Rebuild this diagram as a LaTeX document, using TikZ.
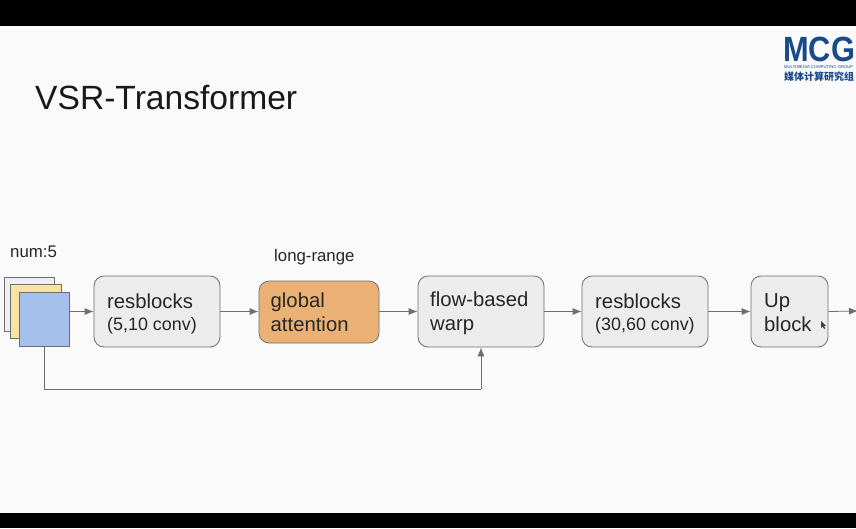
\documentclass[tikz,border=0pt]{standalone}
\usepackage{fontspec}
\setmainfont{Liberation Sans}
\newfontfamily\cjk{Noto Sans CJK SC}
\usetikzlibrary{arrows.meta}
\definecolor{boxfill}{HTML}{ECECEC}
\definecolor{edgegray}{HTML}{6E6E6E}
\definecolor{orangefill}{HTML}{EBB174}
\definecolor{bluefill}{HTML}{A6C0EC}
\definecolor{yellowfill}{HTML}{FAE3A2}
\definecolor{paperfill}{HTML}{EFEFEF}
\definecolor{bgwhite}{HTML}{FAFAFA}
\definecolor{logoblue}{HTML}{1A4A8C}
\newcommand{\subline}{\fontsize{17.9}{18}\selectfont}
\tikzset{
  x=1pt,y=-1pt,
  blockbox/.style={draw=edgegray,line width=0.8pt,rounded corners=10pt,fill=boxfill,inner sep=0pt,
    minimum height=71pt,text depth=0pt},
  sheet/.style={draw=edgegray,line width=0.7pt,minimum width=50.5pt,minimum height=54pt,inner sep=0pt,anchor=north west},
  link/.style={draw=edgegray,line width=0.8pt,-{Latex[length=9pt,width=7pt]}},
  plainlink/.style={draw=edgegray,line width=0.8pt},
  lbl/.style={font=\fontsize{20.3}{24}\selectfont,align=left,anchor=west,inner sep=0pt,text=black!85},
  note/.style={anchor=west,inner sep=0pt,font=\fontsize{16.8}{18}\selectfont,text=black!85},
}
\begin{document}
\begin{tikzpicture}
\useasboundingbox (0,0) rectangle (856,528);
\fill[bgwhite] (0,0) rectangle (856,528);
\fill[black] (0,0) rectangle (856,26);
\fill[black] (0,513) rectangle (856,528);

\node[anchor=west,inner sep=0pt,text=black!90,font=\fontsize{33.6}{36}\selectfont] (title) at (35,97.5) {VSR-Transformer};

% logo
\node[anchor=west,inner sep=0pt,text=logoblue,font=\fontsize{35}{35}\selectfont\bfseries,xscale=0.88,text depth=0pt] (logo) at (783,49.5) {MCG};
\node[anchor=west,inner sep=0pt,text=logoblue,font=\fontsize{4.2}{4}\selectfont] (logosub) at (784,67.5) {MULTIMEDIA COMPUTING GROUP};
\node[anchor=west,inner sep=0pt,text=logoblue,font=\fontsize{10}{10}\selectfont\cjk\bfseries] (logocn) at (784,77) {媒体计算研究组};

% stacked frames
\node[sheet,fill=paperfill] (f1) at (3.5,277) {};
\node[sheet,fill=yellowfill] (f2) at (10,284) {};
\node[sheet,fill=bluefill] (f3) at (18.5,292) {};
\node[note] (num) at (10,252) {num:5};

% blocks
\node[blockbox,minimum width=126pt] (r1) at (157,311.5) {};
\node[blockbox,minimum width=120pt,minimum height=62pt,fill=orangefill] (ga) at (319,312) {};
\node[blockbox,minimum width=126pt] (fw) at (481,311.5) {};
\node[blockbox,minimum width=126pt] (r2) at (645,311.5) {};
\node[blockbox,minimum width=77pt] (up) at (789.5,311.5) {};

\node[lbl] (r1t) at (107,313.5) {resblocks\\[-2pt]{\subline (5,10 conv)}};
\node[lbl] (gat) at (270.5,312.5) {global\\attention};
\node[lbl] (fwt) at (430,313.5) {flow-based\\warp};
\node[lbl] (r2t) at (595,313.5) {resblocks\\[-2pt]{\subline (30,60 conv)}};
\node[lbl] (upt) at (764,312.5) {Up\\block};
\node[note] (lr) at (274,257.5) {long-range};

% connectors
\coordinate (outend) at (858,311);
\coordinate (corner1) at (44,389);
\coordinate (corner2) at (481,389);
\draw[link] (f3.east |- r1.west) -- (r1.west);
\draw[link] (r1.east) -- (ga.west |- r1.east);
\draw[link] (ga.east |- fw.west) -- (fw.west);
\draw[link] (fw.east) -- (r2.west);
\draw[link] (r2.east) -- (up.west);
\draw[link] (up.east) -- (outend);
\draw[plainlink] (f3.south -| corner1) -- (corner1) -- (corner2);
\draw[link] (corner2) -- (fw.south);

% pointer
\fill[black!75] (821,321) -- (821,328) -- (822.7,326.4) -- (824,329) -- (825.2,328.4) -- (824,326) -- (826,325.8) -- cycle;
\end{tikzpicture}
\end{document}
